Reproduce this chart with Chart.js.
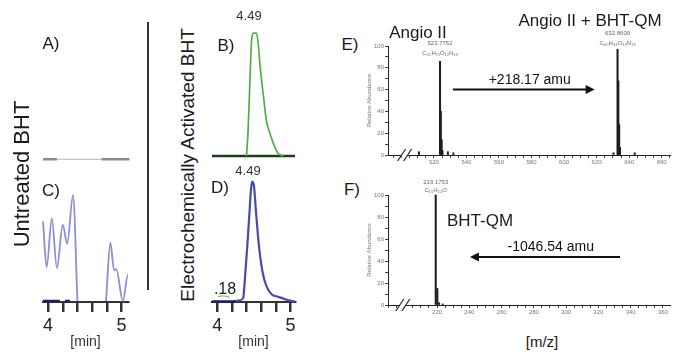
<!DOCTYPE html>
<html>
<head>
<meta charset="utf-8">
<script src="https://cdn.jsdelivr.net/npm/chart.js@4.4.0/dist/chart.umd.min.js"></script>
<style>
  body { margin: 0; background: #fff; }
  #figure { position: relative; width: 677px; height: 360px; overflow: hidden;
    font-family: "Liberation Sans", Arial, sans-serif; color: #1a1a1a; }
  #figure canvas { position: absolute; }
  .c { position: absolute; white-space: nowrap; line-height: 1; transform: translate(-50%, -50%); }
  .v { position: absolute; white-space: nowrap; line-height: 1; transform: translate(-50%, -50%) rotate(-90deg); }
  .sep { position: absolute; left: 147px; top: 22px; width: 2px; height: 268px; background: #333; }
</style>
</head>
<body>
<div id="figure">
  <canvas id="chartA" width="112" height="130" style="left:30px;top:40px"></canvas>
  <canvas id="chartB" width="112" height="135" style="left:199px;top:25px"></canvas>
  <canvas id="chartC" width="112" height="175" style="left:30px;top:180px"></canvas>
  <canvas id="chartD" width="112" height="190" style="left:199px;top:165px"></canvas>
  <canvas id="chartE" width="313" height="144" style="left:362px;top:26px"></canvas>
  <canvas id="chartF" width="313" height="140" style="left:362px;top:176px"></canvas>

  <div class="sep"></div>
  <div class="v" style="left:22px;top:174px;font-size:22px">Untreated BHT</div>
  <div class="v" style="left:187px;top:165px;font-size:19px">Electrochemically Activated BHT</div>

  <div class="c" style="left:51px;top:43px;font-size:17px">A)</div>
  <div class="c" style="left:226px;top:45px;font-size:17px">B)</div>
  <div class="c" style="left:51px;top:190px;font-size:17px">C)</div>
  <div class="c" style="left:220px;top:187px;font-size:17px">D)</div>
  <div class="c" style="left:249px;top:15px;font-size:13px;color:#333">4.49</div>
  <div class="c" style="left:248px;top:170px;font-size:13px;color:#333">4.49</div>
  <div class="c" style="left:225px;top:289px;font-size:16px;color:#222">.18</div>

  <div class="c" style="left:350px;top:44px;font-size:17px">E)</div>
  <div class="c" style="left:352px;top:189px;font-size:17px">F)</div>
  <div class="c" style="left:418px;top:32px;font-size:17px">Angio II</div>
  <div class="c" style="left:590px;top:20px;font-size:17px">Angio II + BHT-QM</div>
  <div class="c" style="left:480px;top:220px;font-size:17px">BHT-QM</div>
  <div class="c" style="left:542px;top:341px;font-size:15px">[m/z]</div>
</div>

<script>
// ---- chromatograms (retention time in min, relative intensity) ----
const aTimes = [3.93, 5.11];
const aValues = [0, 0];
const aMarkTimes = [3.93, 4.12, 4.4, 4.73, 5.11];
const aMarkValues = [0, 0, null, 0, 0];

const bTimes = [4.40, 4.42, 4.445, 4.467, 4.49, 4.536, 4.563, 4.585, 4.636, 4.67, 4.72, 4.78, 4.83, 4.90];
const bValues = [0, 19, 59, 92, 100, 100, 89, 73, 46, 29, 18, 8, 2, 0];
const bBaseTimes = [3.93, 5.06];
const bBaseValues = [0, 0];

const cTimes = [3.93, 3.98, 4.05, 4.12, 4.20, 4.26, 4.34, 4.40, 4.6, 4.79, 4.85, 4.90, 4.93, 5.02, 5.09, 5.11];
const cValues = [75, 32, 78, 31, 72, 54, 100, 0, null, 0, 55, 29, 30, 0, 25, 17];
const cBaseTimes = [3.93, 4.16, 4.2, 4.23, 4.30];
const cBaseValues = [0, 0, null, 0, 0];

const dTimes = [4.22, 4.31, 4.355, 4.377, 4.41, 4.44, 4.46, 4.477, 4.50, 4.53, 4.57, 4.62, 4.67, 4.74, 4.83, 4.945, 5.01, 5.06];
const dValues = [0, 1, 3, 18, 46, 74, 93, 100, 97, 74, 46, 24, 13, 6, 4, 1.5, 0.5, 0];
const dBaseTimes = [3.93, 4.25];
const dBaseValues = [0, 0];
const dMinorTimes = [4.01, 4.05, 4.1, 4.15, 4.17];
const dMinorValues = [4, 4.6, 4.6, 4, 3.5];

const minuteTicks = [4, 4.2, 4.4, 4.6, 4.8, 5];
const minuteTickLabels = ['4', '', '', '', '', '5'];

// ---- mass spectra (m/z, relative abundance) ----
const eMz = [510.8, 523.77, 524.27, 524.77, 525.27, 528.6, 532.0, 630.4, 632.86, 633.36, 633.86, 634.36, 643.4];
const eAbundance = [3, 86, 40, 14, 4, 3, 2, 2, 97, 68, 28, 7, 2];
const eTickLabels = [520, 540, 560, 580, 600, 620, 640, 660];

const fMz = [219.18, 220.18, 221.18, 223.5];
const fAbundance = [100, 15, 2, 1];
const fTickLabels = [220, 240, 260, 280, 300, 320, 340, 360];

const eNotes = {
  breakAt: 502,
  peaks: [
    { mz: 523.77, mass: '523.7762', formula: 'C₅₀H₇₁O₁₂N₁₃', massLevel: 102.7, formulaLevel: 93.6 },
    { mz: 632.86, mass: '632.8600', formula: 'C₆₅H₉₄O₁₃N₁₃', massLevel: 112, formulaLevel: 102.7 }
  ],
  arrow: { from: 531.7, to: 618.8, level: 60, text: '+218.17 amu', textAt: 578.9, textLevel: 69 }
};
const fNotes = {
  breakAt: 198.8,
  peaks: [
    { mz: 219.18, mass: '219.1753', formula: 'C₁₅H₂₂O', massLevel: 111.8, formulaLevel: 104.5 }
  ],
  arrow: { from: 333.4, to: 240.4, level: 43.6, text: '-1046.54 amu', textAt: 290.5, textLevel: 52.7 }
};

const FONT = '"Liberation Sans", Arial, sans-serif';
Chart.defaults.font.family = FONT;
Chart.defaults.animation = false;
Chart.defaults.plugins.legend.display = false;
Chart.defaults.plugins.tooltip.enabled = false;
Chart.defaults.elements.point.radius = 0;

function pairs(xs, ys) {
  return xs.map((x, i) => ({ x: x, y: ys[i] }));
}

function trace(xs, ys, color, width) {
  return {
    data: pairs(xs, ys),
    borderColor: color,
    borderWidth: width,
    cubicInterpolationMode: 'monotone',
    clip: false,
    spanGaps: false
  };
}

function minutesAxis(range) {
  return {
    type: 'linear', min: range[0], max: range[1],
    afterBuildTicks: (scale) => { scale.ticks = minuteTicks.map(v => ({ value: v })); },
    afterFit: (scale) => { scale.height = 53; },
    grid: { drawOnChartArea: false, drawTicks: true, tickLength: 10,
      color: '#333', tickColor: '#333', tickWidth: 2.5, lineWidth: 2.5 },
    border: { display: true, color: '#333', width: 2 },
    ticks: { autoSkip: false, maxRotation: 0, padding: 3, color: '#222', font: { size: 18 },
      callback: (v, i) => minuteTickLabels[i] },
    title: { display: true, text: '[min]', color: '#333', font: { size: 14 }, padding: { top: 0, bottom: 4 } }
  };
}

function traceChart(id, datasets, xRange, yRange, pad, withAxis) {
  const x = withAxis ? minutesAxis(xRange)
                     : { type: 'linear', display: false, min: xRange[0], max: xRange[1] };
  return new Chart(document.getElementById(id), {
    type: 'line',
    data: { datasets: datasets },
    options: {
      responsive: false,
      layout: { padding: pad },
      scales: { x: x, y: { display: false, min: yRange[0], max: yRange[1] } }
    }
  });
}

traceChart('chartA', [
  trace(aMarkTimes, aMarkValues, '#8c8c8c', 2.5),
  trace(aTimes, aValues, '#b4b4b4', 1.2)
], [3.93, 5.09], [-9, 100], { left: 13, right: 14, top: 0, bottom: 0 }, false);

traceChart('chartB', [
  trace(bTimes, bValues, '#52ad48', 1.7),
  trace(bBaseTimes, bBaseValues, '#1e3d1e', 2.5)
], [3.93, 5.06], [-3.3, 106.7], { left: 13, right: 16, top: 0, bottom: 0 }, false);

traceChart('chartC', [
  trace(cTimes, cValues, '#8e8ed0', 1.8),
  trace(cBaseTimes, cBaseValues, '#1c1c6e', 2.5)
], [3.93, 5.09], [-0.94, 114.2], { left: 13, right: 14, top: 0, bottom: 0 }, true);

traceChart('chartD', [
  trace(dMinorTimes, dMinorValues, '#6cbf62', 1.2),
  trace(dBaseTimes, dBaseValues, '#1c1c6e', 2.5),
  trace(dTimes, dValues, '#4a4aa8', 2.2)
], [3.93, 5.06], [-0.42, 113.9], { left: 13, right: 16, top: 0, bottom: 0 }, true);

// ---- spectra ----
function massAxis(range, labels, height) {
  const first = labels[0] - 30, last = labels[labels.length - 1];
  const minor = [];
  for (let v = first; v <= last + 5; v += 5) minor.push(v);
  return {
    type: 'linear', min: range[0], max: range[1], offset: false,
    afterBuildTicks: (scale) => { scale.ticks = minor.filter(v => v >= range[0] && v <= range[1]).map(v => ({ value: v })); },
    afterFit: (scale) => { scale.height = height; },
    grid: { drawOnChartArea: false, tickLength: 3, color: '#444', lineWidth: 1, offset: false },
    border: { color: '#222', width: 1 },
    ticks: { autoSkip: false, maxRotation: 0, padding: 1, color: '#777', font: { size: 6 },
      callback: (v) => labels.includes(v) ? String(v) : '' }
  };
}

function abundanceAxis() {
  return {
    min: 0, max: 100,
    afterFit: (scale) => { scale.width = 26; },
    grid: { drawOnChartArea: false, tickLength: 3, color: '#444', lineWidth: 1 },
    border: { color: '#222', width: 1 },
    ticks: { stepSize: 10, padding: 1, color: '#777', font: { size: 6 },
      callback: (v) => v % 20 === 0 ? String(v) : '' },
    title: { display: true, text: 'Relative Abundance', color: '#777', font: { size: 6 }, padding: { top: 4, bottom: 0 } }
  };
}

function spectrumNotes(notes) {
  return {
    id: 'spectrumNotes',
    afterDraw(chart) {
      const ctx = chart.ctx;
      const xs = chart.scales.x, ys = chart.scales.y;
      ctx.save();

      // axis break
      const bx = xs.getPixelForValue(notes.breakAt), by = ys.getPixelForValue(0);
      ctx.fillStyle = '#fff';
      ctx.fillRect(bx - 3, by - 2, 6, 4);
      ctx.strokeStyle = '#222';
      ctx.lineWidth = 1.2;
      [-3, 3].forEach(dx => {
        ctx.beginPath();
        ctx.moveTo(bx + dx - 4, by + 6);
        ctx.lineTo(bx + dx + 4, by - 6);
        ctx.stroke();
      });

      // peak annotations
      ctx.fillStyle = '#666';
      ctx.font = '6px ' + FONT;
      ctx.textAlign = 'center';
      ctx.textBaseline = 'middle';
      notes.peaks.forEach(p => {
        const px = xs.getPixelForValue(p.mz);
        ctx.fillText(p.mass, px, ys.getPixelForValue(p.massLevel));
        ctx.fillText(p.formula, px, ys.getPixelForValue(p.formulaLevel));
      });

      // mass shift arrow
      const a = notes.arrow;
      const x0 = xs.getPixelForValue(a.from), x1 = xs.getPixelForValue(a.to);
      const ay = ys.getPixelForValue(a.level);
      const dir = Math.sign(x1 - x0);
      ctx.strokeStyle = '#111';
      ctx.lineWidth = 2;
      ctx.beginPath();
      ctx.moveTo(x0, ay);
      ctx.lineTo(x1 - dir * 7, ay);
      ctx.stroke();
      ctx.fillStyle = '#111';
      ctx.beginPath();
      ctx.moveTo(x1, ay);
      ctx.lineTo(x1 - dir * 9, ay - 4.5);
      ctx.lineTo(x1 - dir * 9, ay + 4.5);
      ctx.closePath();
      ctx.fill();
      ctx.font = '14px ' + FONT;
      ctx.fillText(a.text, xs.getPixelForValue(a.textAt), ys.getPixelForValue(a.textLevel));

      ctx.restore();
    }
  };
}

function spectrumChart(id, mz, abundance, range, labels, pad, axisHeight, notes) {
  return new Chart(document.getElementById(id), {
    type: 'bar',
    data: { datasets: [{
      data: pairs(mz, abundance),
      backgroundColor: '#1e1e1e',
      barThickness: 1.4,
      clip: false
    }] },
    options: {
      responsive: false,
      layout: { padding: pad },
      scales: { x: massAxis(range, labels, axisHeight), y: abundanceAxis() }
    },
    plugins: [spectrumNotes(notes)]
  });
}

spectrumChart('chartE', eMz, eAbundance, [491.8, 665.1], eTickLabels,
  { top: 20, right: 5, left: 0, bottom: 0 }, 15, eNotes);
spectrumChart('chartF', fMz, fAbundance, [189.6, 364.4], fTickLabels,
  { top: 19, right: 5, left: 0, bottom: 0 }, 11, fNotes);
</script>
</body>
</html>
